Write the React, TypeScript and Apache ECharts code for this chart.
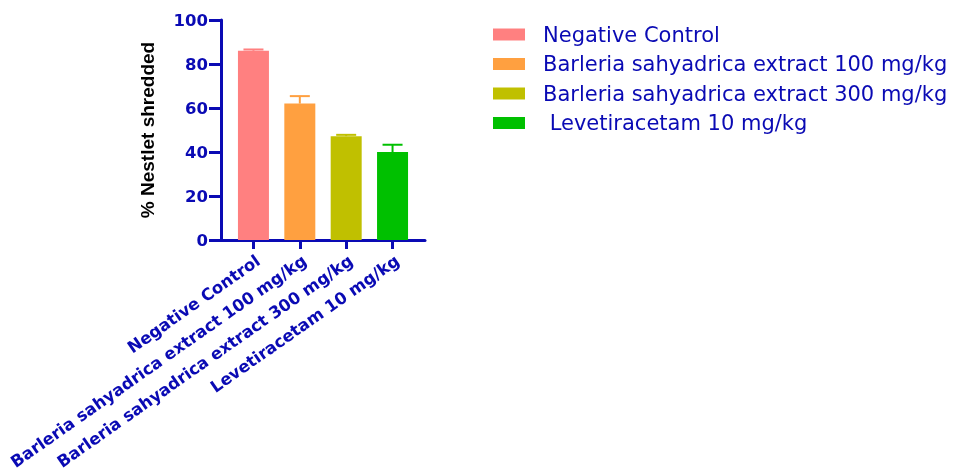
import React, { useEffect, useRef } from "react";
import * as echarts from "echarts";

const categories = [
  "Negative Control",
  "Barleria sahyadrica extract 100 mg/kg",
  "Barleria sahyadrica extract 300 mg/kg",
  "Levetiracetam 10 mg/kg",
];
const legendNames = [
  "Negative Control",
  "Barleria sahyadrica extract 100 mg/kg",
  "Barleria sahyadrica extract 300 mg/kg",
  " Levetiracetam 10 mg/kg",
];
const positions = [1, 2, 3, 4];
const means = [86, 62, 47.2, 40];
const errors = [0.6, 3.4, 0.6, 3.3];
const colors = ["#FF8080", "#FFA040", "#C0C000", "#00C000"];
const yTitle = "% Nestlet shredded";

const BLUE = "#0A0AB4";

export default function App() {
  const ref = useRef<HTMLDivElement>(null);
  useEffect(() => {
    if (!ref.current) return;
    const chart = echarts.init(ref.current, null, { renderer: "svg" });
    const barSeries = legendNames.map((name, i) => ({
      type: "bar",
      name,
      data: [[positions[i], means[i]]],
      barWidth: 31,
      barGap: "-100%",
      itemStyle: { color: colors[i] },
      z: 2,
    }));
    chart.setOption({
      animation: false,
      grid: {
        left: 221,
        top: 20,
        width: 204,
        height: 220,
        containLabel: false,
        outerBoundsMode: "none",
      },
      legend: {
        data: legendNames,
        orient: "vertical",
        left: 488,
        top: 19,
        icon: "rect",
        itemWidth: 32,
        itemHeight: 12,
        itemGap: 8.5,
        selectedMode: false,
        textStyle: {
          color: BLUE,
          fontFamily: "DejaVu Sans",
          fontSize: 21,
          lineHeight: 21,
          padding: [0, 0, 0, 13],
        },
      },
      xAxis: {
        type: "value",
        min: 0.3,
        max: 4.7,
        splitLine: { show: false },
        axisLine: { show: true, onZero: false, lineStyle: { color: BLUE, width: 3 } },
        axisTick: {
          show: true,
          length: 9,
          lineStyle: { color: BLUE, width: 3 },
          customValues: positions,
        },
        axisLabel: {
          customValues: positions,
          rotate: 35,
          margin: 12,
          verticalAlign: "top",
          color: BLUE,
          fontFamily: "DejaVu Sans",
          fontWeight: "bold",
          fontSize: 16.5,
          formatter: (v: number) => categories[Math.round(v) - 1] ?? "",
        },
      },
      yAxis: {
        type: "value",
        min: 0,
        max: 100,
        interval: 20,
        name: yTitle,
        nameLocation: "middle",
        nameGap: 64,
        nameTextStyle: {
          color: "#000",
          fontFamily: "Liberation Sans, Arial",
          fontWeight: "bold",
          fontSize: 19,
        },
        splitLine: { show: false },
        axisLine: { show: true, onZero: false, lineStyle: { color: BLUE, width: 3 } },
        axisTick: { show: true, length: 12, lineStyle: { color: BLUE, width: 3 } },
        axisLabel: {
          margin: 13,
          color: BLUE,
          fontFamily: "DejaVu Sans",
          fontWeight: "bold",
          fontSize: 16.5,
        },
      },
      series: [
        ...barSeries,
        {
          type: "custom",
          name: "err",
          z: 3,
          data: positions.map((p, i) => [p, means[i], errors[i]]),
          renderItem: (params: any, api: any) => {
            const x = api.value(0);
            const m = api.value(1);
            const e = api.value(2);
            const base = api.coord([x, m]);
            const top = api.coord([x, m + e]);
            const c = colors[params.dataIndex];
            const half = 10;
            return {
              type: "group",
              children: [
                {
                  type: "line",
                  shape: { x1: base[0], y1: base[1], x2: top[0], y2: top[1] },
                  style: { stroke: c, lineWidth: 2 },
                },
                {
                  type: "line",
                  shape: { x1: top[0] - half, y1: top[1], x2: top[0] + half, y2: top[1] },
                  style: { stroke: c, lineWidth: 2 },
                },
              ],
            };
          },
        },
      ],
    });
    return () => chart.dispose();
  }, []);
  return (
    <div
      ref={ref}
      style={{ position: "fixed", left: 0, top: 0, width: 960, height: 472 }}
    />
  );
}
